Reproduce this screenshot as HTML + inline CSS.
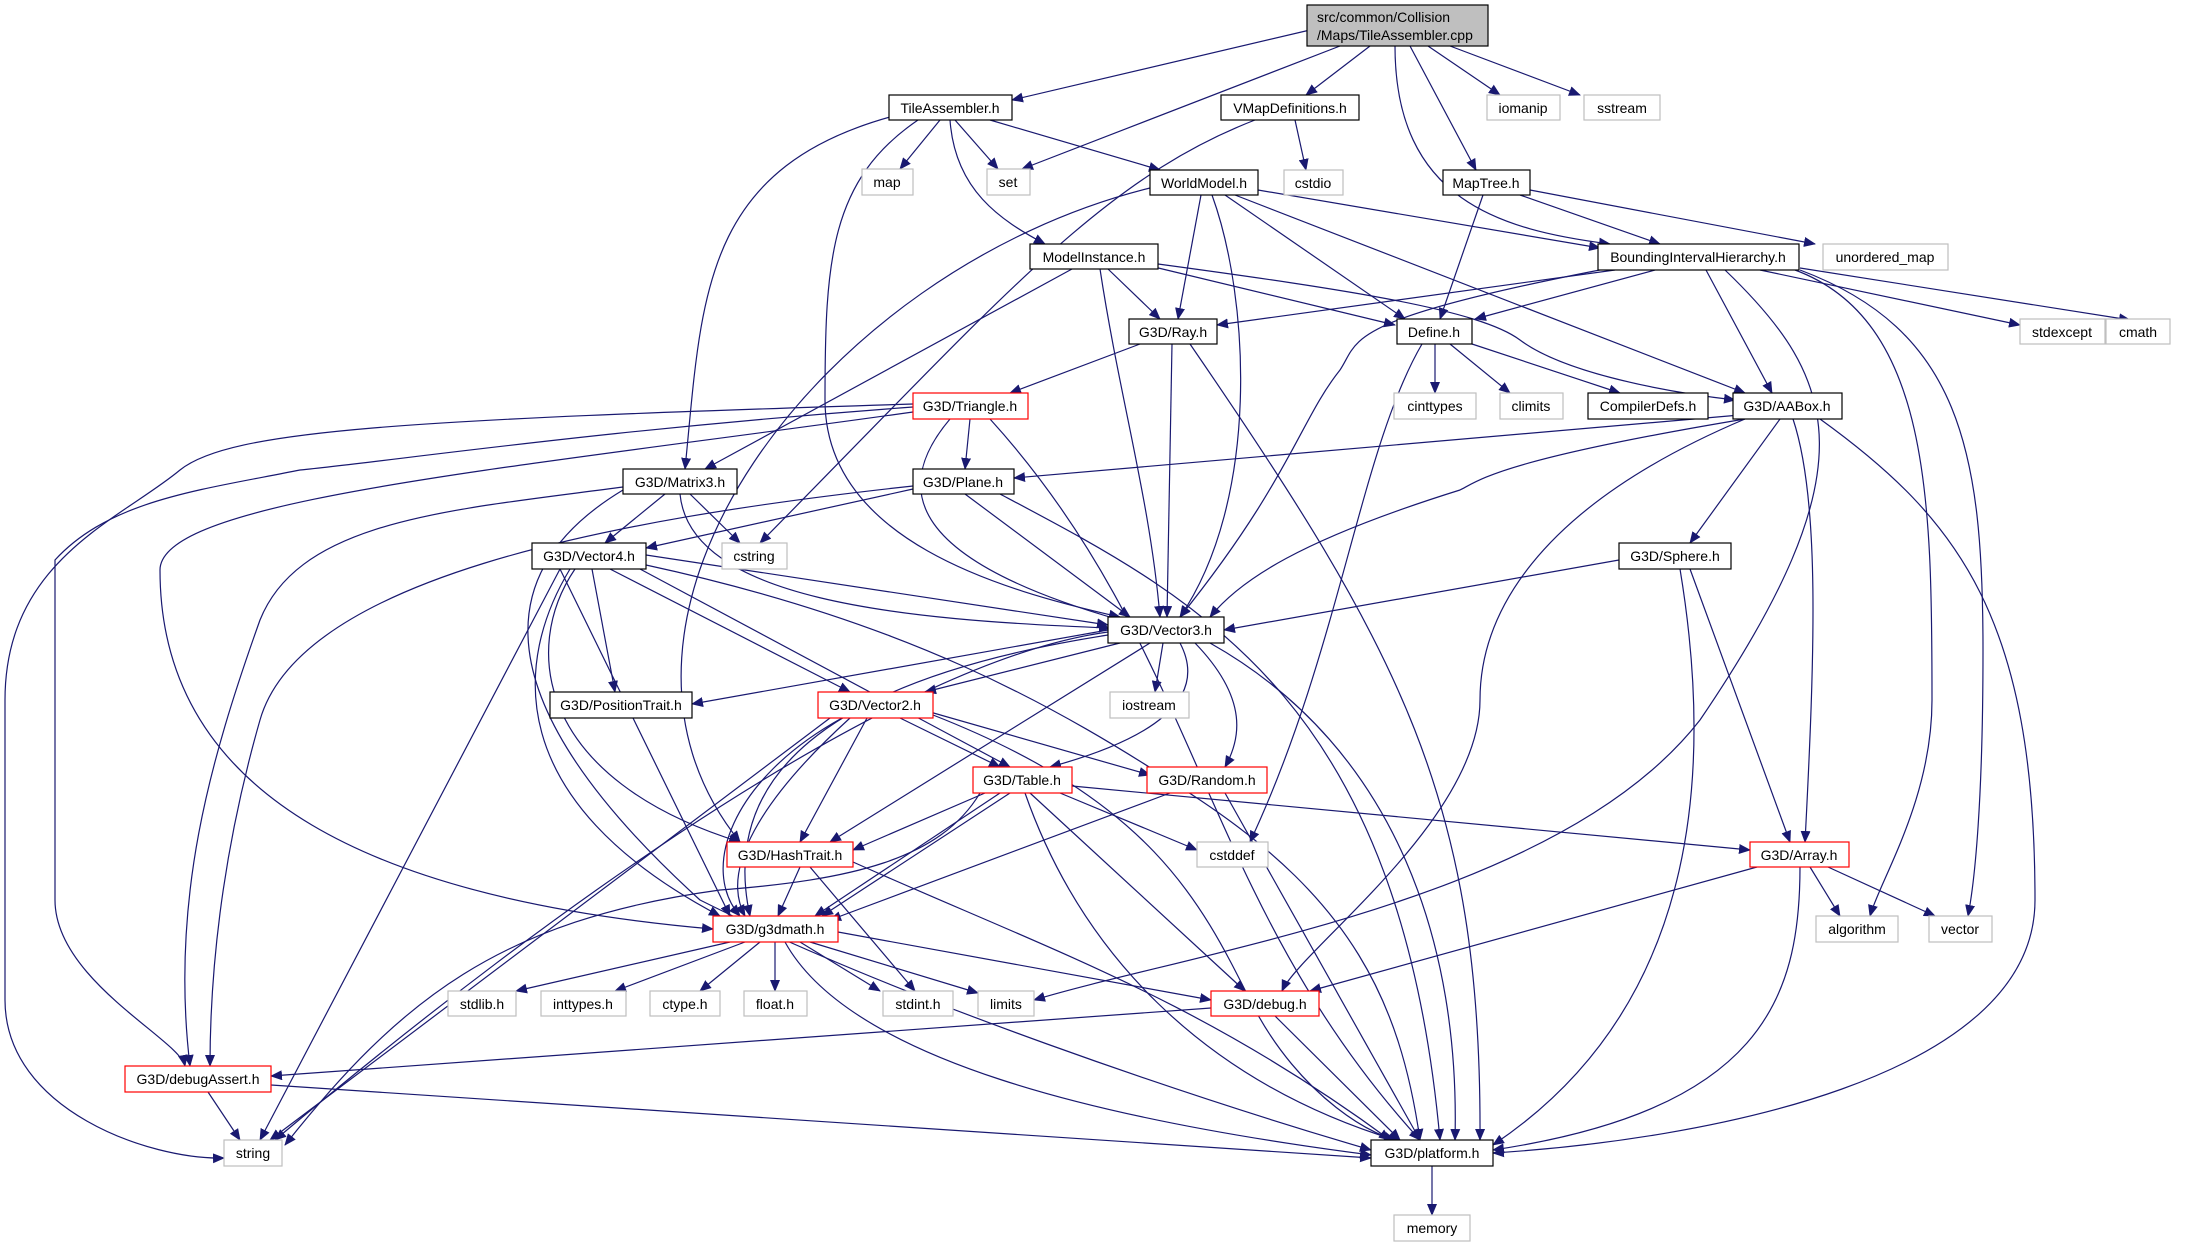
<!DOCTYPE html>
<html><head><meta charset="utf-8"><style>
html,body{margin:0;padding:0;background:#fff;}
svg{display:block;}
text{font-family:"Liberation Sans",sans-serif;font-size:14px;fill:#000;}
.e{fill:none;stroke:#191970;stroke-width:1.2;marker-end:url(#a);}
.n{fill:#fff;stroke:#000;stroke-width:1.2;}
.g{fill:#fff;stroke:#bfbfbf;stroke-width:1.2;}
.r{fill:#fff;stroke:#ff0000;stroke-width:1.2;}
</style></head><body>
<svg width="2193" height="1247" viewBox="0 0 2193 1247" xmlns="http://www.w3.org/2000/svg">
<defs><marker id="a" markerUnits="userSpaceOnUse" markerWidth="12" markerHeight="10" refX="11" refY="5" orient="auto"><path d="M0,0 L12,5 L0,10 z" fill="#191970"/></marker></defs>
<g>
<path class="e" d="M1310,30 L1012,100"/>
<path class="e" d="M1340,46 L1022,169"/>
<path class="e" d="M1370,46 L1306,95"/>
<path class="e" d="M1428,46 L1500,95"/>
<path class="e" d="M1450,46 L1580,95"/>
<path class="e" d="M1410,46 L1476,170"/>
<path class="e" d="M1395,46 C1395,200 1500,230 1610,244"/>
<path class="e" d="M940,120 L900,169"/>
<path class="e" d="M955,120 L998,169"/>
<path class="e" d="M990,120 L1160,170"/>
<path class="e" d="M950,120 C955,190 1000,220 1045,244"/>
<path class="e" d="M890,117 C700,170 702,300 685,469"/>
<path class="e" d="M918,120 C830,180 825,260 825,400 C825,540 1000,590 1120,617"/>
<path class="e" d="M1295,120 L1306,170"/>
<path class="e" d="M1255,120 C1100,180 1000,300 760,543"/>
<path class="e" d="M1258,190 L1600,248"/>
<path class="e" d="M1201,195 L1178,319"/>
<path class="e" d="M1225,195 L1405,319"/>
<path class="e" d="M1235,195 L1745,393"/>
<path class="e" d="M1212,195 C1250,300 1260,500 1180,617"/>
<path class="e" d="M1150,188 C820,270 560,620 740,842"/>
<path class="e" d="M1520,195 L1660,244"/>
<path class="e" d="M1483,195 L1440,319"/>
<path class="e" d="M1530,190 L1815,244"/>
<path class="e" d="M1108,269 L1160,319"/>
<path class="e" d="M1150,266 L1395,325"/>
<path class="e" d="M1158,264 C1350,290 1480,310 1520,340 C1560,370 1650,390 1735,400"/>
<path class="e" d="M1100,269 C1120,400 1150,500 1160,617"/>
<path class="e" d="M1072,269 L705,469"/>
<path class="e" d="M1615,270 L1217,325"/>
<path class="e" d="M1655,270 L1475,319"/>
<path class="e" d="M1706,270 L1772,393"/>
<path class="e" d="M1760,270 L2020,325"/>
<path class="e" d="M1800,268 L2130,320"/>
<path class="e" d="M1795,270 C1930,320 1932,500 1932,700 C1932,800 1880,880 1870,916"/>
<path class="e" d="M1800,270 C1960,330 1983,450 1983,650 C1983,800 1975,880 1968,916"/>
<path class="e" d="M1725,270 C1840,380 1870,470 1700,720 C1560,900 1200,950 1034,1000"/>
<path class="e" d="M1610,268 C1340,320 1360,340 1340,370 C1300,420 1290,480 1180,617"/>
<path class="e" d="M1140,344 L1010,393"/>
<path class="e" d="M1172,344 L1167,617"/>
<path class="e" d="M1190,344 C1400,650 1482,800 1480,1140"/>
<path class="e" d="M1435,344 L1435,393"/>
<path class="e" d="M1450,344 L1510,393"/>
<path class="e" d="M1472,344 L1620,393"/>
<path class="e" d="M1422,344 C1360,450 1340,650 1250,842"/>
<path class="e" d="M1740,415 L1014,478"/>
<path class="e" d="M1745,419 C1500,460 1480,480 1460,490 C1300,540 1240,580 1210,617"/>
<path class="e" d="M1780,419 L1690,543"/>
<path class="e" d="M1793,419 C1820,500 1815,650 1805,842"/>
<path class="e" d="M1745,419 C1530,510 1480,620 1480,700 C1480,820 1300,950 1282,991"/>
<path class="e" d="M1820,419 C1960,520 2035,620 2035,900 C2035,1080 1700,1140 1493,1153"/>
<path class="e" d="M970,419 L965,469"/>
<path class="e" d="M950,419 C890,490 910,560 1120,620"/>
<path class="e" d="M990,419 C1200,650 1200,900 1420,1140"/>
<path class="e" d="M913,404 C400,420 230,430 180,470 C120,520 5,560 5,700 L5,1000 C5,1110 150,1160 224,1158"/>
<path class="e" d="M913,407 C600,430 400,460 300,470 C200,490 110,500 55,560 L55,900 C55,980 180,1040 185,1066"/>
<path class="e" d="M913,412 C500,470 160,500 160,570 C160,800 380,900 713,929"/>
<path class="e" d="M665,494 L605,543"/>
<path class="e" d="M690,494 L740,543"/>
<path class="e" d="M680,494 C690,600 900,620 1110,628"/>
<path class="e" d="M623,487 C450,510 300,520 260,620 C210,760 170,900 190,1066"/>
<path class="e" d="M623,490 C490,570 480,700 700,900 C900,1000 1200,1100 1371,1150"/>
<path class="e" d="M913,489 L646,548"/>
<path class="e" d="M965,494 L1130,617"/>
<path class="e" d="M1000,494 C1200,600 1400,700 1440,1140"/>
<path class="e" d="M913,486 C600,520 300,580 260,720 C220,860 210,980 210,1066"/>
<path class="e" d="M646,555 L1108,625"/>
<path class="e" d="M592,569 L615,692"/>
<path class="e" d="M610,569 L850,692"/>
<path class="e" d="M640,569 L1010,767"/>
<path class="e" d="M575,569 C520,650 540,780 740,842"/>
<path class="e" d="M560,569 L730,916"/>
<path class="e" d="M570,569 C515,660 500,800 720,916"/>
<path class="e" d="M560,569 L260,1140"/>
<path class="e" d="M646,565 C900,620 1050,700 1200,800 C1350,900 1400,1000 1420,1140"/>
<path class="e" d="M1120,643 L925,692"/>
<path class="e" d="M1163,643 L1155,692"/>
<path class="e" d="M1108,630 L692,704"/>
<path class="e" d="M1180,643 C1210,700 1150,740 1050,767"/>
<path class="e" d="M1195,643 C1250,700 1240,740 1225,767"/>
<path class="e" d="M1150,643 L830,842"/>
<path class="e" d="M1108,635 C820,680 720,780 750,916"/>
<path class="e" d="M1108,632 C900,660 560,900 275,1140"/>
<path class="e" d="M1210,643 C1400,750 1460,950 1455,1140"/>
<path class="e" d="M1619,560 L1224,630"/>
<path class="e" d="M1690,569 L1790,842"/>
<path class="e" d="M1680,569 C1710,750 1710,1000 1493,1145"/>
<path class="e" d="M900,718 L1000,767"/>
<path class="e" d="M867,718 L800,842"/>
<path class="e" d="M850,718 C760,800 720,870 745,916"/>
<path class="e" d="M842,718 C730,780 700,870 740,916"/>
<path class="e" d="M930,712 L1150,775"/>
<path class="e" d="M830,718 L270,1140"/>
<path class="e" d="M933,715 C1150,800 1200,900 1250,1000 C1300,1100 1380,1140 1400,1140"/>
<path class="e" d="M985,793 L853,850"/>
<path class="e" d="M1000,793 L815,916"/>
<path class="e" d="M1010,793 L822,916"/>
<path class="e" d="M1060,793 L1197,850"/>
<path class="e" d="M1072,786 L1750,850"/>
<path class="e" d="M1030,793 L1245,991"/>
<path class="e" d="M1025,793 C1080,950 1200,1080 1395,1140"/>
<path class="e" d="M980,793 C940,860 850,880 720,890 C500,920 400,1000 285,1145"/>
<path class="e" d="M1170,793 L830,920"/>
<path class="e" d="M1225,793 L1420,1140"/>
<path class="e" d="M800,867 L778,916"/>
<path class="e" d="M810,867 L915,991"/>
<path class="e" d="M853,862 C1050,950 1200,1000 1390,1140"/>
<path class="e" d="M1757,867 L1310,991"/>
<path class="e" d="M1810,867 L1840,916"/>
<path class="e" d="M1828,867 L1935,916"/>
<path class="e" d="M1800,867 C1800,1000 1760,1110 1493,1150"/>
<path class="e" d="M730,942 L516,991"/>
<path class="e" d="M745,942 L615,991"/>
<path class="e" d="M760,942 L700,991"/>
<path class="e" d="M775,942 L775,991"/>
<path class="e" d="M800,942 L880,991"/>
<path class="e" d="M810,942 L978,993"/>
<path class="e" d="M838,932 L1211,1000"/>
<path class="e" d="M785,942 C850,1060 1100,1120 1371,1155"/>
<path class="e" d="M1211,1008 L271,1076"/>
<path class="e" d="M1275,1016 L1400,1140"/>
<path class="e" d="M208,1092 L240,1140"/>
<path class="e" d="M271,1085 L1371,1158"/>
<path class="e" d="M1432,1166 L1432,1215"/>
</g>
<g>
<rect x="1307" y="5" width="181" height="41" fill="#bfbfbf" stroke="#000" stroke-width="1.2"/>
<text x="1317" y="22">src/common/Collision</text>
<text x="1317" y="40">/Maps/TileAssembler.cpp</text>

<rect class="n" x="889" y="95" width="123" height="25"/><text x="950" y="113" text-anchor="middle">TileAssembler.h</text>
<rect class="n" x="1221" y="95" width="138" height="25"/><text x="1290" y="113" text-anchor="middle">VMapDefinitions.h</text>
<rect class="g" x="1487" y="95" width="73" height="25"/><text x="1523" y="113" text-anchor="middle">iomanip</text>
<rect class="g" x="1584" y="95" width="76" height="25"/><text x="1622" y="113" text-anchor="middle">sstream</text>
<rect class="g" x="862" y="169" width="51" height="26"/><text x="887" y="187" text-anchor="middle">map</text>
<rect class="g" x="987" y="169" width="43" height="26"/><text x="1008" y="187" text-anchor="middle">set</text>
<rect class="n" x="1150" y="170" width="108" height="25"/><text x="1204" y="188" text-anchor="middle">WorldModel.h</text>
<rect class="g" x="1284" y="170" width="59" height="25"/><text x="1313" y="188" text-anchor="middle">cstdio</text>
<rect class="n" x="1443" y="170" width="87" height="25"/><text x="1486" y="188" text-anchor="middle">MapTree.h</text>
<rect class="n" x="1030" y="244" width="128" height="25"/><text x="1094" y="262" text-anchor="middle">ModelInstance.h</text>
<rect class="n" x="1598" y="244" width="201" height="26"/><text x="1698" y="262" text-anchor="middle">BoundingIntervalHierarchy.h</text>
<rect class="g" x="1823" y="244" width="125" height="26"/><text x="1885" y="262" text-anchor="middle">unordered_map</text>
<rect class="n" x="1129" y="319" width="88" height="25"/><text x="1173" y="337" text-anchor="middle">G3D/Ray.h</text>
<rect class="n" x="1397" y="319" width="75" height="25"/><text x="1434" y="337" text-anchor="middle">Define.h</text>
<rect class="g" x="2020" y="319" width="85" height="25"/><text x="2062" y="337" text-anchor="middle">stdexcept</text>
<rect class="g" x="2106" y="319" width="64" height="25"/><text x="2138" y="337" text-anchor="middle">cmath</text>
<rect class="r" x="913" y="393" width="115" height="26"/><text x="970" y="411" text-anchor="middle">G3D/Triangle.h</text>
<rect class="g" x="1394" y="393" width="82" height="26"/><text x="1435" y="411" text-anchor="middle">cinttypes</text>
<rect class="g" x="1500" y="393" width="63" height="26"/><text x="1531" y="411" text-anchor="middle">climits</text>
<rect class="n" x="1588" y="393" width="120" height="26"/><text x="1648" y="411" text-anchor="middle">CompilerDefs.h</text>
<rect class="n" x="1733" y="393" width="109" height="26"/><text x="1787" y="411" text-anchor="middle">G3D/AABox.h</text>
<rect class="n" x="623" y="469" width="114" height="25"/><text x="680" y="487" text-anchor="middle">G3D/Matrix3.h</text>
<rect class="n" x="913" y="469" width="101" height="25"/><text x="963" y="487" text-anchor="middle">G3D/Plane.h</text>
<rect class="n" x="532" y="543" width="114" height="26"/><text x="589" y="561" text-anchor="middle">G3D/Vector4.h</text>
<rect class="g" x="722" y="543" width="65" height="26"/><text x="754" y="561" text-anchor="middle">cstring</text>
<rect class="n" x="1619" y="543" width="112" height="26"/><text x="1675" y="561" text-anchor="middle">G3D/Sphere.h</text>
<rect class="n" x="1108" y="617" width="116" height="26"/><text x="1166" y="635" text-anchor="middle">G3D/Vector3.h</text>
<rect class="n" x="550" y="692" width="142" height="26"/><text x="621" y="710" text-anchor="middle">G3D/PositionTrait.h</text>
<rect class="r" x="818" y="692" width="115" height="26"/><text x="875" y="710" text-anchor="middle">G3D/Vector2.h</text>
<rect class="g" x="1110" y="692" width="79" height="26"/><text x="1149" y="710" text-anchor="middle">iostream</text>
<rect class="r" x="973" y="767" width="99" height="26"/><text x="1022" y="785" text-anchor="middle">G3D/Table.h</text>
<rect class="r" x="1147" y="767" width="120" height="26"/><text x="1207" y="785" text-anchor="middle">G3D/Random.h</text>
<rect class="r" x="727" y="842" width="126" height="25"/><text x="790" y="860" text-anchor="middle">G3D/HashTrait.h</text>
<rect class="g" x="1197" y="842" width="71" height="25"/><text x="1232" y="860" text-anchor="middle">cstddef</text>
<rect class="r" x="1750" y="842" width="99" height="25"/><text x="1799" y="860" text-anchor="middle">G3D/Array.h</text>
<rect class="r" x="713" y="916" width="125" height="26"/><text x="775" y="934" text-anchor="middle">G3D/g3dmath.h</text>
<rect class="g" x="1816" y="916" width="82" height="26"/><text x="1857" y="934" text-anchor="middle">algorithm</text>
<rect class="g" x="1929" y="916" width="63" height="26"/><text x="1960" y="934" text-anchor="middle">vector</text>
<rect class="g" x="448" y="991" width="68" height="25"/><text x="482" y="1009" text-anchor="middle">stdlib.h</text>
<rect class="g" x="541" y="991" width="85" height="25"/><text x="583" y="1009" text-anchor="middle">inttypes.h</text>
<rect class="g" x="650" y="991" width="70" height="25"/><text x="685" y="1009" text-anchor="middle">ctype.h</text>
<rect class="g" x="744" y="991" width="63" height="25"/><text x="775" y="1009" text-anchor="middle">float.h</text>
<rect class="g" x="883" y="991" width="70" height="25"/><text x="918" y="1009" text-anchor="middle">stdint.h</text>
<rect class="g" x="978" y="991" width="56" height="25"/><text x="1006" y="1009" text-anchor="middle">limits</text>
<rect class="r" x="1211" y="991" width="108" height="25"/><text x="1265" y="1009" text-anchor="middle">G3D/debug.h</text>
<rect class="r" x="125" y="1066" width="146" height="26"/><text x="198" y="1084" text-anchor="middle">G3D/debugAssert.h</text>
<rect class="g" x="224" y="1140" width="58" height="26"/><text x="253" y="1158" text-anchor="middle">string</text>
<rect class="n" x="1371" y="1140" width="122" height="26"/><text x="1432" y="1158" text-anchor="middle">G3D/platform.h</text>
<rect class="g" x="1394" y="1215" width="76" height="26"/><text x="1432" y="1233" text-anchor="middle">memory</text>
</g>
</svg>
</body></html>
